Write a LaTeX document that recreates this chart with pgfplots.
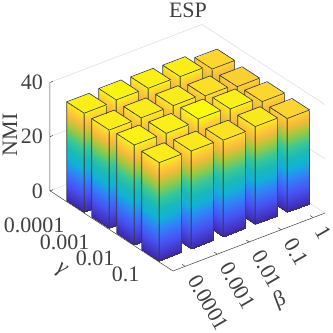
\documentclass[border=0pt]{standalone}
\usepackage{fontspec}
\setmainfont{Liberation Serif}
\usepackage{pgfplots}
\pgfplotsset{compat=1.18}

\definecolor{axgray}{rgb}{0.25,0.25,0.25}
\definecolor{gridgray}{rgb}{0.86,0.86,0.86}
\definecolor{edgegray}{rgb}{0.22,0.22,0.22}

\pgfplotsset{colormap={parula}{
  rgb(0pt)=(0.2422,0.1504,0.6603) rgb(17pt)=(0.2810,0.3228,0.9579) rgb(32pt)=(0.1786,0.5289,0.9682)
  rgb(42pt)=(0.0689,0.6948,0.8394) rgb(52pt)=(0.10,0.73,0.72) rgb(62pt)=(0.22,0.78,0.59)
  rgb(72pt)=(0.55,0.79,0.30) rgb(78pt)=(0.75,0.77,0.22) rgb(85pt)=(0.97,0.73,0.23)
  rgb(92pt)=(0.99,0.82,0.20) rgb(100pt)=(0.976,0.98,0.055)}}

% xlo xhi ylo yhi height: left side, right side, top
\newcommand\Bar[5]{
  \addplot3[patch, patch type=rectangle, shader=faceted interp, faceted color=edgegray, line width=0.6pt, point meta=z]
    coordinates {
      (#1,#3,0) (#1,#4,0) (#1,#4,#5) (#1,#3,#5)
      (#1,#4,0) (#2,#4,0) (#2,#4,#5) (#1,#4,#5)
      (#1,#3,#5) (#1,#4,#5) (#2,#4,#5) (#2,#3,#5)
    };
}

\begin{document}
\begin{tikzpicture}
\begin{axis}[
  x={(32pt,12.2pt)}, y={(25pt,-16.3pt)}, z={(0pt,2.71pt)},
  xmin=0.62, xmax=5.37, ymin=0.02, ymax=4.94, zmin=0, zmax=40,
  clip=false, z buffer=none,
  colormap name=parula, point meta min=0, point meta max=37.4,
  xtick={1,2,3,4,5}, xticklabels={0.0001,0.001,0.01,0.1,1},
  ytick={1,2,3,4}, yticklabels={0.0001,0.001,0.01,0.1},
  ztick={0,20,40},
  axis line style={draw=none},
  major tick length=0pt,
  /pgf/number format/assume math mode=true,
  tick label style={font=\fontsize{22}{22}\selectfont, text=axgray, inner sep=0pt},
  xticklabel style={xshift=8pt, yshift=-10pt, rotate=-60, anchor=west},
  yticklabel style={xshift=-10pt, yshift=-19pt, anchor=east},
  zticklabel style={xshift=-7pt, anchor=east},
  xlabel={β}, ylabel={\textit{γ}}, zlabel={NMI}, title={ESP},
  label style={font=\fontsize{22}{22}\selectfont, text=axgray},
  xlabel style={at={([shift={(107pt,-29pt)}]axis cs:0.62,4.94,0)}, anchor=center, rotate=21},
  ylabel style={at={([shift={(-112pt,0pt)}]axis cs:0.62,4.94,0)}, anchor=center, rotate=-33},
  zlabel style={at={([shift={(-163pt,136pt)}]axis cs:0.62,4.94,0)}, anchor=center},
  title style={at={([shift={(15pt,255pt)}]axis cs:0.62,4.94,0)}, anchor=center, font=\fontsize{22}{22}\selectfont, text=axgray},
]
\coordinate (F) at (axis cs:0.62,4.94,0);
% back walls: z grid
\pgfplotsinvokeforeach{0,20,40}{
  \draw[gridgray, line width=0.5pt] (axis cs:0.62,0.02,#1) -- (axis cs:5.37,0.02,#1) -- (axis cs:5.37,4.94,#1);
}
% axis lines and ticks
\draw[axgray, line width=0.5pt] (axis cs:0.62,0.02,40) -- (axis cs:0.62,0.02,0) -- (axis cs:0.62,4.94,0) -- (axis cs:5.37,4.94,0);
\pgfplotsinvokeforeach{1,2,3,4,5}{
  \draw[axgray, line width=0.5pt] (axis cs:#1,4.94,0) -- (axis cs:#1,4.82,0);
}
\pgfplotsinvokeforeach{1,2,3,4}{
  \draw[axgray, line width=0.5pt] (axis cs:0.62,#1,0) -- (axis cs:0.74,#1,0);
}
\pgfplotsinvokeforeach{0,20,40}{
  \draw[axgray, line width=0.5pt] (axis cs:0.62,0.02,#1) -- (axis cs:0.71,0.02,#1);
}
% gamma = 0.0001
\Bar{4.65}{5.35}{0.65}{1.35}{34.8}
\Bar{3.65}{4.35}{0.65}{1.35}{36.5}
\Bar{2.65}{3.35}{0.65}{1.35}{36.7}
\Bar{1.65}{2.35}{0.65}{1.35}{36.9}
\Bar{0.65}{1.35}{0.65}{1.35}{36.5}
% gamma = 0.001
\Bar{4.65}{5.35}{1.65}{2.35}{34.3}
\Bar{3.65}{4.35}{1.65}{2.35}{35.4}
\Bar{2.65}{3.35}{1.65}{2.35}{36.3}
\Bar{1.65}{2.35}{1.65}{2.35}{36.3}
\Bar{0.65}{1.35}{1.65}{2.35}{36.3}
% gamma = 0.01
\Bar{4.65}{5.35}{2.65}{3.35}{34.8}
\Bar{3.65}{4.35}{2.65}{3.35}{36.6}
\Bar{2.65}{3.35}{2.65}{3.35}{37.4}
\Bar{1.65}{2.35}{2.65}{3.35}{36.6}
\Bar{0.65}{1.35}{2.65}{3.35}{36.8}
% gamma = 0.1
\Bar{4.65}{5.35}{3.65}{4.35}{34.6}
\Bar{3.65}{4.35}{3.65}{4.35}{36.1}
\Bar{2.65}{3.35}{3.65}{4.35}{35.6}
\Bar{1.65}{2.35}{3.65}{4.35}{36.1}
\Bar{0.65}{1.35}{3.65}{4.35}{36.3}
\end{axis}
\pgfresetboundingbox
\path[use as bounding box] ([shift={(-173pt,271pt)}]F) rectangle ([shift={(160pt,-62pt)}]F);
\end{tikzpicture}
\end{document}
